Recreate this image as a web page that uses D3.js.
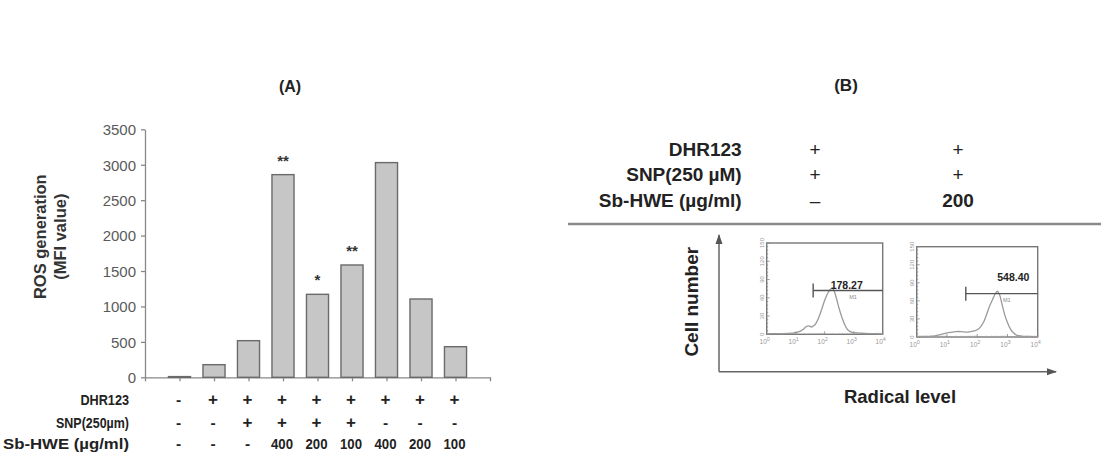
<!DOCTYPE html>
<html><head><meta charset="utf-8">
<script src="https://cdn.jsdelivr.net/npm/d3@7"></script>
<style>
body{margin:0;background:#fff;}
svg{display:block;font-family:"Liberation Sans",Arial,sans-serif;}
</style></head>
<body><svg id="c" width="1101" height="453"></svg>
<script>
// ---------- Data ----------
// Panel A
const rosValues = [10, 178, 517, 2860, 1171, 1585, 3030, 1105, 432];
const stars     = ["", "", "", "**", "*", "**", "", "", ""];
const dhrRow    = ["-", "+", "+", "+", "+", "+", "+", "+", "+"];
const snpRow    = ["-", "-", "+", "+", "+", "+", "-", "-", "-"];
const sbRow     = ["-", "-", "-", "400", "200", "100", "400", "200", "100"];
const tableLabelsA = ["DHR123", "SNP(250µm)", "Sb-HWE (µg/ml)"];
const yTicksA   = [0, 500, 1000, 1500, 2000, 2500, 3000, 3500];

// Panel B
const tableLabelsB = ["DHR123", "SNP(250 µM)", "Sb-HWE (µg/ml)"];
const colB1 = ["+", "+", "–"];
const colB2 = ["+", "+", "200"];
// flow cytometry histograms: [intensity, count]
const hist1 = [[1,1],[2,1],[4,1],[8,2],[12.6,4],[18,8],[22,12],[28,14],[35,12],[42,14],[50,18],[63,28],[80,42],[100,56],[126,67],[158,74],[182,76],[209,72],[251,60],[316,42],[398,27],[501,15],[631,7],[891,3],[1585,2],[3162,1],[6310,1],[10000,0.5]];
const hist2 = [[1,1],[2.5,1],[4,2],[6,4],[10,7],[15,8],[20,9],[30,9],[45,8],[60,9],[80,10],[100,12],[125,16],[160,24],[200,36],[250,50],[320,62],[400,72],[470,76],[550,70],[650,56],[800,38],[1000,24],[1260,13],[1580,7],[2000,3],[3000,1.5],[5000,1],[10000,0.5]];
const gateMFI = ["178.27", "548.40"];
const gateRange = [[40, 10000], [42, 10000]];
const gateCount = 72;
const histYTicks = [0, 30, 60, 90, 120, 150];
const histXTicks = [1, 10, 100, 1000, 10000];

// ---------- Drawing ----------
const svg = d3.select("#c");

// ===== Panel A =====
const gA = svg.append("g");
const xA = d3.scaleBand().domain(d3.range(rosValues.length)).range([162.25, 472.75]).paddingInner(0.36).paddingOuter(0.18);
const xAxisScale = d3.scaleLinear().domain([0, 10]).range([145, 490]);
const yA = d3.scaleLinear().domain([0, 3500]).range([377.3, 129.3]);

gA.append("text").attr("x", 290).attr("y", 92).attr("text-anchor", "middle")
  .attr("font-size", 16).attr("font-weight", "bold").attr("fill", "#222").text("(A)");

// y axis
const yAx = gA.append("g").attr("transform", "translate(145,0)")
  .call(d3.axisLeft(yA).tickValues(yTicksA).tickFormat(d3.format("d")).tickSize(4).tickSizeOuter(0).tickPadding(5));
yAx.selectAll("path,line").attr("stroke", "#888").attr("stroke-width", 1.3);
yAx.selectAll("text").attr("font-size", 15).attr("fill", "#5a5a5a")
  .attr("font-family", "'Liberation Sans',Arial,sans-serif").attr("dy", "0.36em");

// x axis
const xAx = gA.append("g").attr("transform", `translate(0,${yA(0)})`)
  .call(d3.axisBottom(xAxisScale).tickValues(d3.range(0, 11)).tickSize(4).tickSizeOuter(0).tickFormat(""));
xAx.selectAll("path,line").attr("stroke", "#888").attr("stroke-width", 1.3);

// bars
gA.selectAll("rect.bar").data(rosValues).join("rect").attr("class", "bar")
  .attr("x", (d, i) => xA(i)).attr("width", xA.bandwidth())
  .attr("y", d => yA(d)).attr("height", d => yA(0) - yA(d))
  .attr("fill", "#c6c6c6").attr("stroke", "#6a6a6a").attr("stroke-width", 1.4);

// stars
gA.selectAll("text.star").data(stars).join("text").attr("class", "star")
  .attr("x", (d, i) => xA(i) + xA.bandwidth() / 2)
  .attr("y", (d, i) => yA(rosValues[i]) - 9)
  .attr("text-anchor", "middle").attr("font-size", 15).attr("font-weight", "bold").attr("fill", "#333")
  .text(d => d);

// y title
const yt = gA.append("text").attr("transform", "translate(46,236.7) rotate(-90)")
  .attr("text-anchor", "middle").attr("font-size", 16.5).attr("font-weight", "bold").attr("fill", "#333");
yt.append("tspan").attr("x", 0).attr("y", 0).text("ROS generation");
yt.append("tspan").attr("x", 0).attr("y", 20).text("(MFI value)");

// table A
const rowsA = [dhrRow, snpRow, sbRow];
const rowYA = [405, 428, 449];
const labelLenA = [48.6, 73, 126];
tableLabelsA.forEach((lab, r) => {
  gA.append("text").attr("x", 129).attr("y", rowYA[r]).attr("text-anchor", "end")
    .attr("font-size", 15.5).attr("font-weight", "bold").attr("fill", "#222")
    .attr("textLength", labelLenA[r]).attr("lengthAdjust", "spacingAndGlyphs").text(lab);
  gA.selectAll(null).data(rowsA[r]).join("text")
    .attr("x", (d, i) => xA(i) + xA.bandwidth() / 2 - 1)
    .attr("y", rowYA[r]).attr("text-anchor", "middle")
    .attr("font-size", d => d === "+" ? 17 : 15.5).attr("font-weight", "bold").attr("fill", "#222")
    .each(function (d) {
      const t = d3.select(this).text(d);
      if (d.length > 1) t.attr("textLength", 22).attr("lengthAdjust", "spacingAndGlyphs");
    });
});

// ===== Panel B =====
const gB = svg.append("g");
gB.append("text").attr("x", 846).attr("y", 91).attr("text-anchor", "middle")
  .attr("font-size", 17).attr("font-weight", "bold").attr("fill", "#222").text("(B)");
const rowYB = [156, 181, 207];
tableLabelsB.forEach((lab, r) => {
  gB.append("text").attr("x", 741.7).attr("y", rowYB[r]).attr("text-anchor", "end")
    .attr("font-size", 19).attr("font-weight", "bold").attr("fill", "#222").text(lab);
  gB.append("text").attr("x", 815).attr("y", rowYB[r]).attr("text-anchor", "middle")
    .attr("font-size", 19).attr("fill", "#222").text(colB1[r]);
  gB.append("text").attr("x", 958).attr("y", rowYB[r]).attr("text-anchor", "middle")
    .attr("font-size", 19).attr("font-weight", colB2[r].length > 1 ? "bold" : "normal").attr("fill", "#222").text(colB2[r]);
});
gB.append("line").attr("x1", 568).attr("x2", 1101).attr("y1", 224).attr("y2", 224)
  .attr("stroke", "#8a8a8a").attr("stroke-width", 2.5);

// arrows
const defs = svg.append("defs");
defs.append("marker").attr("id", "arr").attr("viewBox", "0 0 10 10").attr("refX", 9).attr("refY", 5)
  .attr("markerWidth", 7).attr("markerHeight", 7).attr("orient", "auto")
  .append("path").attr("d", "M0,1.5 L10,5 L0,8.5 z").attr("fill", "#555");
gB.append("line").attr("x1", 719).attr("y1", 371.7).attr("x2", 719).attr("y2", 235)
  .attr("stroke", "#666").attr("stroke-width", 1.5).attr("marker-end", "url(#arr)");
gB.append("line").attr("x1", 719).attr("y1", 371.7).attr("x2", 1056).attr("y2", 371.7)
  .attr("stroke", "#666").attr("stroke-width", 1.5).attr("marker-end", "url(#arr)");
gB.append("text").attr("transform", "translate(698,301.7) rotate(-90)").attr("text-anchor", "middle")
  .attr("font-size", 19).attr("font-weight", "bold").attr("fill", "#222").text("Cell number");
gB.append("text").attr("x", 900).attr("y", 402.5).attr("text-anchor", "middle")
  .attr("font-size", 18.5).attr("font-weight", "bold").attr("fill", "#222").text("Radical level");

// histogram panels
const panels = [
  {box: [766.7, 882.7, 243, 334.3], data: hist1, label: [846.7, 288.5], m1: [853, 299]},
  {box: [916.7, 1037.7, 246.7, 337], data: hist2, label: [1013.3, 281], m1: [1006.7, 302]}
];
panels.forEach((p, k) => {
  const [l, r, t, b] = p.box;
  const x = d3.scaleLog().domain([1, 1e4]).range([l, r]);
  const y = d3.scaleLinear().domain([0, 150]).range([b, t]);
  const g = gB.append("g");
  g.append("rect").attr("x", l).attr("y", t).attr("width", r - l).attr("height", b - t)
    .attr("fill", "none").attr("stroke", "#777").attr("stroke-width", 1.4);
  // y ticks (major + minor)
  d3.range(0, 151, 6).forEach(v => {
    g.append("line").attr("x1", l).attr("x2", l + (v % 30 === 0 ? 3 : 1.5)).attr("y1", y(v)).attr("y2", y(v))
      .attr("stroke", "#888").attr("stroke-width", 0.8);
  });
  histYTicks.forEach(v => {
    g.append("text").attr("transform", `translate(${l - 3},${y(v)}) rotate(-90)`)
      .attr("text-anchor", "middle").attr("font-size", 6).attr("fill", "#999").text(v);
  });
  // x ticks
  histXTicks.forEach((v, i) => {
    g.append("line").attr("x1", x(v)).attr("x2", x(v)).attr("y1", b).attr("y2", b - 3)
      .attr("stroke", "#888").attr("stroke-width", 0.8);
    const tx = g.append("text").attr("x", x(v) - 2).attr("y", b + 10).attr("text-anchor", "middle")
      .attr("font-size", 6.5).attr("fill", "#999");
    tx.append("tspan").text("10");
    tx.append("tspan").attr("dy", -3.5).attr("font-size", 5.5).text(i);
  });
  // minor x ticks
  for (let dec = 1; dec < 1e4; dec *= 10) for (let m = 2; m < 10; m++) {
    g.append("line").attr("x1", x(dec * m)).attr("x2", x(dec * m)).attr("y1", b).attr("y2", b - 1.5)
      .attr("stroke", "#aaa").attr("stroke-width", 0.6);
  }
  // curve
  g.append("path").datum(p.data)
    .attr("d", d3.line().x(d => x(d[0])).y(d => y(d[1])).curve(d3.curveCatmullRom))
    .attr("fill", "none").attr("stroke", "#9a9a9a").attr("stroke-width", 1.3);
  // gate
  const [g0, g1] = gateRange[k];
  g.append("line").attr("x1", x(g0)).attr("x2", x(g1)).attr("y1", y(gateCount)).attr("y2", y(gateCount))
    .attr("stroke", "#555").attr("stroke-width", 1.4);
  g.append("line").attr("x1", x(g0)).attr("x2", x(g0)).attr("y1", y(gateCount) - 7).attr("y2", y(gateCount) + 7)
    .attr("stroke", "#555").attr("stroke-width", 1.4);
  g.append("text").attr("x", p.label[0]).attr("y", p.label[1]).attr("text-anchor", "middle")
    .attr("font-size", 10.5).attr("font-weight", "bold").attr("fill", "#222").text(gateMFI[k]);
  g.append("text").attr("x", p.m1[0]).attr("y", p.m1[1]).attr("text-anchor", "middle")
    .attr("font-size", 5.5).attr("fill", "#888").text("M1");
});
</script></body></html>
